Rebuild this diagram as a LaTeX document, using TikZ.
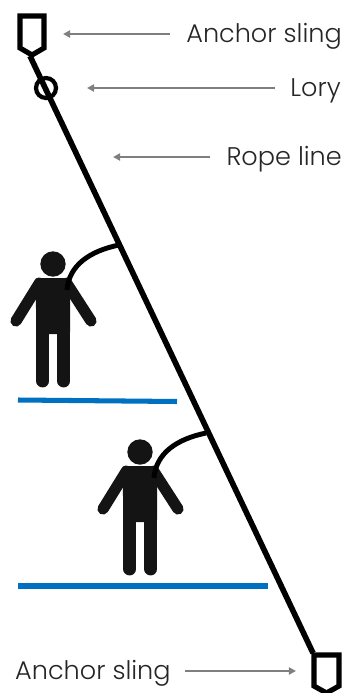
\documentclass[tikz,border=0pt]{standalone}
\usepackage{fontspec}
\setmainfont{Poppins}[UprightFont=* Light]
\usepackage{xcolor}
\usepackage{tikz}
\usetikzlibrary{
  arrows.meta,
  calc
}
\definecolor{ropeblack}{HTML}{000000}
\definecolor{bodyblack}{HTML}{141414}
\definecolor{leadgray}{HTML}{7F7F7F}
\definecolor{deckblue}{HTML}{0070C0}
\definecolor{labeltext}{HTML}{262626}

\begin{document}
\begin{tikzpicture}[
  x=0.3mm, y=-0.3mm,
  rope/.style={draw=ropeblack, line width=4.8pt},
  sling/.style={draw=ropeblack, line width=4.4pt, miter limit=10, fill=white},
  lanyard/.style={draw=ropeblack, line width=4.2pt},
  deck/.style={draw=deckblue, line width=4.3pt},
  lead/.style={draw=leadgray, line width=1.6pt, -{Triangle[length=6pt,width=6pt]}},
  tag/.style={font=\fontsize{21.8}{24}\selectfont, text=labeltext, inner sep=0pt, text height=17pt, text depth=3pt},
  walker/.pic={
    \fill[bodyblack] (0,-12) circle (12.7*0.3mm);
    \fill[bodyblack, rounded corners=2pt] (-18,2) -- (18,2) -- (17,30) -- (17,58) -- (-17,58) -- (-17,30) -- cycle;
    \draw[bodyblack, line width=9.6pt, line cap=round] (-13.5,7) -- (-37,45);
    \draw[bodyblack, line width=9.6pt, line cap=round] (13.5,7) -- (38,45);
    \draw[bodyblack, line width=11pt, line cap=round] (-10.3,40) -- (-10.3,105);
    \draw[bodyblack, line width=11pt, line cap=round] (10.7,40) -- (10.7,105);
  },
]
\useasboundingbox (0,0) rectangle (348,693);

% Rope and its two slings
\coordinate (ropetop) at (30,56);
\coordinate (ropebot) at (313,653);
\draw[rope] (ropetop) -- (ropebot);
\draw[sling] (20,16) -- (44,16) -- (44,48) -- (32,55) -- (20,48) -- cycle;
\draw[sling] (314,655) -- (339,655) -- (339,686) -- (326.5,693) -- (314,686) -- cycle;
\node[draw=ropeblack, line width=3.6pt, circle, minimum size=6mm, inner sep=0pt] (lory) at (46,88) {};

% People and their lanyards
\pic at (53,276) {walker};
\pic at (140,464) {walker};
\coordinate (clipA) at (119,245);
\coordinate (clipB) at (206,433);
\coordinate (hipA) at (67,290);
\coordinate (hipB) at (154,478);
\draw[lanyard] (hipA) .. controls (69,265) and (90,251) .. (clipA);
\draw[lanyard] (hipB) .. controls (156,453) and (177,439) .. (clipB);

% Platforms
\coordinate (deckAl) at (18,400);
\coordinate (deckAr) at (177,401.5);
\coordinate (deckBl) at (18,586);
\coordinate (deckBr) at (268,586);
\draw[deck] (deckAl) -- (deckAr);
\draw[deck] (deckBl) -- (deckBr);

% Labels
\node[tag, anchor=east] (tagsling) at (342,34) {Anchor sling};
\node[tag, anchor=east] (taglory) at (341,88) {Lory};
\node[tag, anchor=east] (tagrope) at (342,157) {Rope line};
\node[tag, anchor=west] (tagbot) at (15,671) {Anchor sling};
\coordinate (tipsling) at (63,34);
\coordinate (tiplory) at (87,88);
\coordinate (tiprope) at (113,157);
\coordinate (tipbot) at (296,671);
\draw[lead, shorten <=13.5pt] (tagsling.west) -- (tipsling);
\draw[lead, shorten <=13pt] (taglory.west) -- (tiplory);
\draw[lead, shorten <=14pt] (tagrope.west) -- (tiprope);
\draw[lead, shorten <=12pt] (tagbot.east) -- (tipbot);
\end{tikzpicture}
\end{document}
